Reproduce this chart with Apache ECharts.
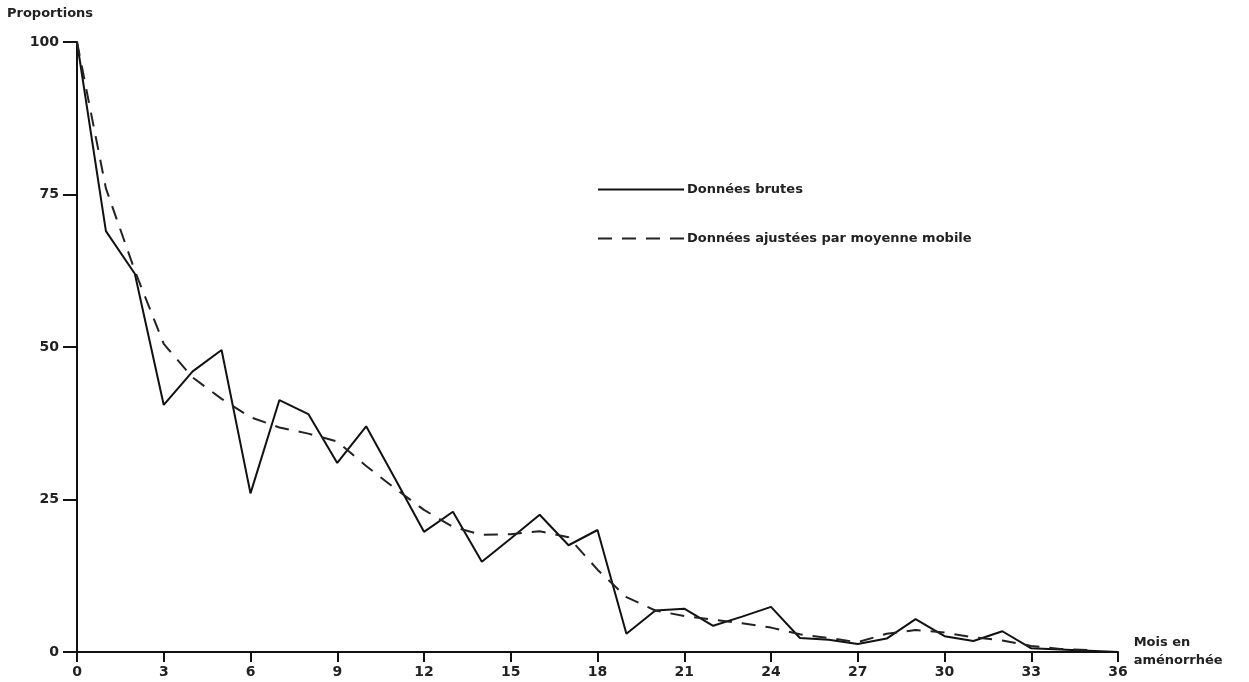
<!DOCTYPE html>
<html><head><meta charset="utf-8">
<script src="https://cdn.jsdelivr.net/npm/echarts@6/dist/echarts.min.js"></script>
<style>html,body{margin:0;padding:0;background:#fff}#c{width:1249px;height:682px}</style>
</head><body><div id="c"></div>
<script>
const months = [0,1,2,3,4,5,6,7,8,9,10,11,12,13,14,15,16,17,18,19,20,21,22,23,24,25,26,27,28,29,30,31,32,33,34,35,36];
const rawValues = [100,69,62,40.5,46,49.5,26,41.3,39,31,37,28.4,19.7,23,14.8,18.6,22.5,17.5,20,3,6.8,7.1,4.3,5.8,7.4,2.3,2,1.3,2.2,5.4,2.6,1.8,3.4,0.6,0.4,0.2,0];
const smoothValues = [100,76,62.5,50.5,45,41.5,38.5,36.8,35.8,34.5,30.5,26.8,23.3,20.5,19.2,19.3,19.8,18.8,13.5,9,6.8,5.9,5.3,4.7,4.0,2.9,2.3,1.6,3.0,3.6,3.2,2.4,1.9,1.0,0.5,0.3];
const yTicks = [0,25,50,75,100];
const xTicks = [0,3,6,9,12,15,18,21,24,27,30,33,36];
const seriesNames = ['Données brutes','Données ajustées par moyenne mobile'];
const yName = 'Proportions';
const xName = 'Mois en\naménorrhée';

const font = 'DejaVu Sans, Liberation Sans, sans-serif';
const chart = echarts.init(document.getElementById('c'));
chart.setOption({
  animation:false,
  backgroundColor:'#fff',
  grid:{left:77,right:131,top:42,bottom:30,containLabel:false},
  legend:{
    orient:'vertical', left:592, top:178, itemWidth:86, itemHeight:14, itemGap:36,
    itemStyle:{opacity:0},
    textStyle:{fontFamily:font,fontWeight:'bold',fontSize:13,color:'#222',padding:[0,0,0,-2]},
    data:seriesNames
  },
  xAxis:{
    type:'value', min:0, max:36, interval:3,
    name:xName, nameLocation:'end', nameGap:10,
    nameTextStyle:{fontFamily:font,fontWeight:'bold',fontSize:13,color:'#222',align:'left',verticalAlign:'middle',padding:[12,0,0,0],lineHeight:18},
    axisLine:{lineStyle:{color:'#111',width:2}},
    axisTick:{show:true,length:10,lineStyle:{color:'#111',width:2}},
    axisLabel:{fontFamily:font,fontWeight:'bold',fontSize:14,color:'#222',margin:13,
      formatter:v=>xTicks.includes(v)?String(v):''},
    splitLine:{show:false}
  },
  yAxis:{
    type:'value', min:0, max:100, interval:25,
    name:yName, nameLocation:'end', nameGap:22,
    nameTextStyle:{fontFamily:font,fontWeight:'bold',fontSize:13,color:'#222',align:'left',padding:[0,0,0,-70]},
    axisLine:{show:true,lineStyle:{color:'#111',width:2}},
    axisTick:{show:true,length:14,lineStyle:{color:'#111',width:2}},
    axisLabel:{fontFamily:font,fontWeight:'bold',fontSize:14,color:'#222',margin:18,
      formatter:v=>yTicks.includes(v)?String(v):''},
    splitLine:{show:false}
  },
  series:[
    {name:seriesNames[0],type:'line',symbol:'none',
     data:months.map((m,i)=>[m,rawValues[i]]),
     lineStyle:{color:'#111',width:2},itemStyle:{color:'#111'}},
    {name:seriesNames[1],type:'line',symbol:'none',
     data:smoothValues.map((v,i)=>[months[i],v]),
     lineStyle:{color:'#222',width:2,type:[14,10]},itemStyle:{color:'#222'}}
  ]
});
</script></body></html>
